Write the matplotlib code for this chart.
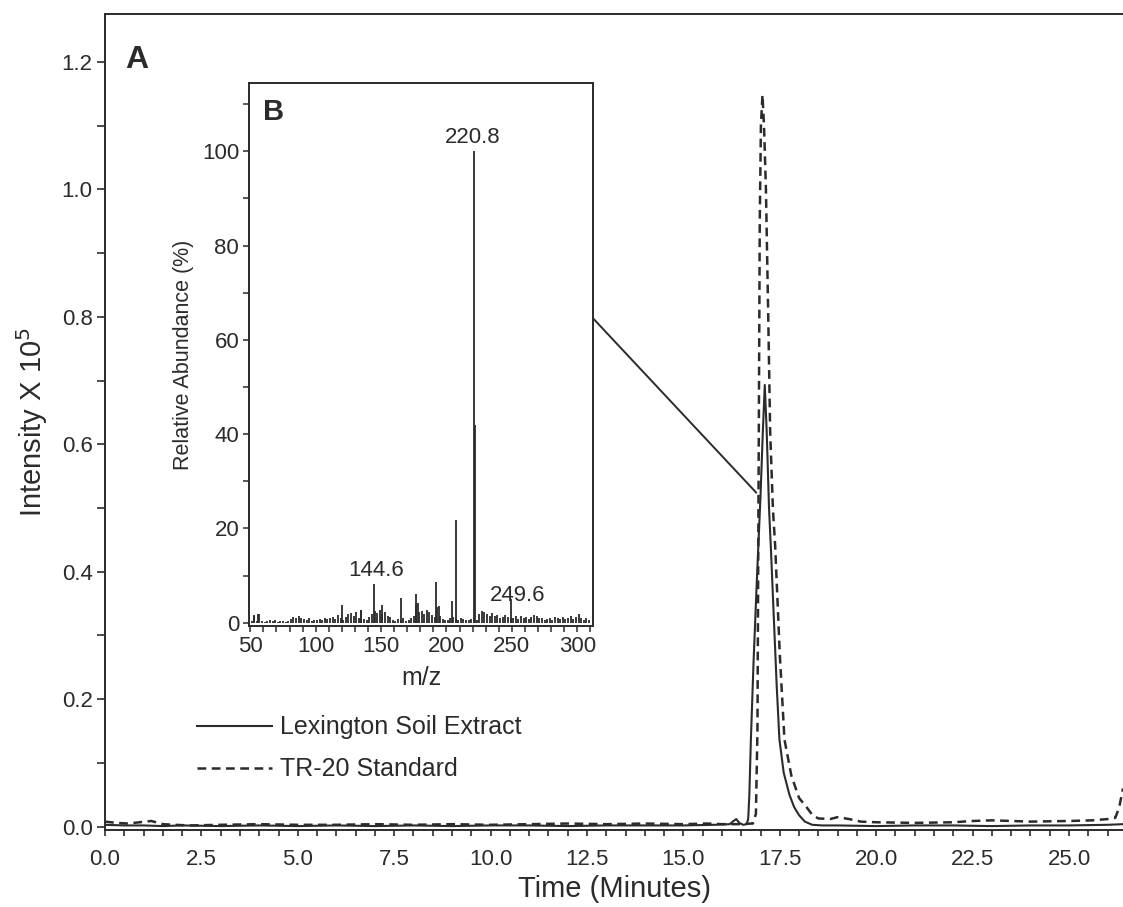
import numpy as np
import matplotlib.pyplot as plt
from matplotlib.patches import ConnectionPatch
from matplotlib.ticker import MultipleLocator

plt.rcParams["font.family"] = ["Liberation Sans", "DejaVu Sans"]
ink = "#2b2b2b"

# chromatogram, Lexington soil extract
lex_t = [0.0, 0.5, 1.0, 1.5, 2.0,
         3.0, 4.0, 5.0, 6.0, 7.0, 8.0, 9.0, 10.0, 11.0, 12.0, 13.0, 14.0, 15.0,
         15.8, 16.2, 16.3, 16.37, 16.45, 16.55, 16.64,
         16.68, 16.71, 16.75, 16.82, 16.90, 17.00, 17.06, 17.11,
         17.16, 17.22, 17.27, 17.35, 17.42, 17.49,
         17.60, 17.75, 17.87, 18.00, 18.15, 18.34, 18.6,
         19.0, 20.0, 21.0, 22.0, 23.0, 24.0, 25.0, 26.0, 26.4]
lex_i = [0.003, 0.002, 0.002, 0.001, 0.002,
         0.001, 0.002, 0.001, 0.002, 0.001, 0.002, 0.001, 0.002, 0.002, 0.001, 0.002, 0.002, 0.002,
         0.003, 0.004, 0.009, 0.012, 0.006, 0.003, 0.004,
         0.012, 0.05, 0.137, 0.26, 0.38, 0.52, 0.62, 0.693,
         0.62, 0.50, 0.435, 0.32, 0.22, 0.137,
         0.085, 0.05, 0.031, 0.018, 0.008, 0.003, 0.002,
         0.002, 0.001, 0.002, 0.002, 0.001, 0.002, 0.002, 0.003, 0.004]

# chromatogram, TR-20 standard
tr_t = [0.0, 0.3, 0.6, 0.9, 1.2, 1.5, 1.8, 2.2,
        3.0, 4.0, 5.0, 6.0, 7.0, 8.0, 9.0, 10.0, 11.0, 12.0, 13.0, 14.0, 15.0,
        15.6, 16.0, 16.4, 16.8,
        16.88, 16.92, 16.95, 16.98, 17.01, 17.05,
        17.09, 17.14, 17.20, 17.25, 17.32, 17.38,
        17.50, 17.62, 17.80, 18.00, 18.19, 18.35, 18.50, 18.80,
        19.00, 19.30, 19.60,
        20.0, 21.0, 22.0, 22.5, 23.0, 24.0, 25.0,
        25.6, 26.0, 26.2, 26.3, 26.4]
tr_i = [0.008, 0.006, 0.005, 0.007, 0.009, 0.004, 0.003, 0.002,
        0.003, 0.004, 0.003, 0.003, 0.004, 0.003, 0.004, 0.003, 0.004, 0.005, 0.004, 0.005, 0.004,
        0.005, 0.004, 0.004, 0.005,
        0.02, 0.15, 0.55, 0.95, 1.10, 1.148,
        1.10, 1.00, 0.80, 0.62, 0.50, 0.44,
        0.27, 0.137, 0.08, 0.045, 0.031, 0.018, 0.013, 0.012,
        0.015, 0.012, 0.008,
        0.007, 0.006, 0.007, 0.009, 0.010, 0.008, 0.009,
        0.010, 0.012, 0.014, 0.03, 0.06]

# mass spectrum: background ions every 2 m/z, then the main fragments
noise_mz = np.arange(51, 311, 2)
noise_ab = [0.3, 1.5, 0.4, 1.8, 0.3,
            0.2, 0.3, 0.5, 0.3, 0.6, 0.2, 0.4, 0.3, 0.2, 0.4,
            0.8, 1.2, 0.9, 1.5, 1.1, 0.7, 0.5, 0.9, 0.4, 0.6,
            0.5, 0.8, 0.6, 1.0, 0.7, 0.9, 1.3, 0.8, 1.6, 0.9,
            0.6, 1.2, 1.8, 2.0, 1.4, 2.2, 1.0, 2.6, 0.8, 0.5,
            1.2, 1.8, 2.4, 2.0, 2.6, 1.9, 2.3, 1.5, 1.2, 0.6,
            0.4, 0.8, 0.5, 0.9, 0.3, 0.6, 1.1, 1.5, 4.0, 2.2,
            2.5, 1.8, 2.8, 2.2, 1.6, 1.2, 3.4, 1.4, 0.8, 0.6,
            0.5, 0.9, 1.2, 0.8, 0.6, 0.9, 0.7, 0.5, 0.6, 0.8,
            0.5, 0.6, 1.8, 2.4, 2.2, 1.9, 1.5, 2.1, 1.4, 1.6,
            1.0, 1.3, 1.7, 1.2, 0.9, 1.1, 1.5, 0.8, 1.4, 1.0,
            1.2, 0.7, 1.3, 1.6, 1.4, 0.9, 1.1, 0.6, 0.8, 1.0,
            0.6, 1.2, 0.9, 0.7, 1.3, 0.8, 1.0, 1.5, 0.7, 1.2,
            1.8, 0.9, 0.6, 1.1, 0.5]
peak_mz = [53, 56, 120, 135, 144.6, 151, 165, 177, 178.5, 192, 194.5, 204, 207, 220.8, 221.8, 249.6]
peak_ab = [1.6, 1.8, 3.7, 2.7, 8.3, 3.8, 5.3, 6.0, 4.2, 8.7, 3.6, 4.6, 21.8, 100, 42, 5.0]
labelled = [144.6, 220.8, 249.6]

fig = plt.figure(figsize=(11.23, 9.07), dpi=100)
ax = fig.add_axes([0.0935, 0.085, 0.9065, 0.8996])

ln1, = ax.plot(lex_t, lex_i, color=ink, lw=1.5, label="Lexington Soil Extract")
ln2, = ax.plot(tr_t, tr_i, color=ink, lw=1.8, ls=(0, (3.5, 2.2)), label="TR-20 Standard")

ax.set_xlim(0, 26.4)
ax.set_ylim(-0.005, 1.275)
ax.xaxis.set_major_locator(MultipleLocator(2.5))
ax.xaxis.set_minor_locator(MultipleLocator(0.5))
ax.yaxis.set_major_locator(MultipleLocator(0.2))
ax.yaxis.set_minor_locator(MultipleLocator(0.1))
ax.xaxis.set_major_formatter(lambda v, p: f"{v:.1f}")
ax.yaxis.set_major_formatter(lambda v, p: f"{v:.1f}")
ax.tick_params(axis="both", which="both", direction="out", color=ink, labelcolor=ink,
               labelsize=16, width=1.2)
ax.tick_params(axis="y", which="both", length=6, pad=3)
ax.tick_params(axis="x", which="both", length=4, pad=10)
ax.spines["right"].set_visible(False)
for s in ["left", "bottom", "top"]:
    ax.spines[s].set_color(ink)
    ax.spines[s].set_linewidth(1.4)

ax.set_xlabel("Time (Minutes)", fontsize=21, color=ink, labelpad=3)
ax.set_ylabel("Intensity X 10$^5$", fontsize=21, color=ink, labelpad=8)
ax.text(0.02, 0.962, "A", transform=ax.transAxes, fontsize=23, fontweight="bold",
        color=ink, va="top", ha="left")

leg = ax.legend(handles=[ln1, ln2], loc="lower left", bbox_to_anchor=(0.068, 0.032),
                frameon=False, fontsize=18, handlelength=3.0, handletextpad=0.35,
                labelspacing=0.72)
for t in leg.get_texts():
    t.set_color(ink)

# inset: mass spectrum of the peak
ins = fig.add_axes([0.2217, 0.3098, 0.3063, 0.5987])
ins.vlines(noise_mz, 0, noise_ab, color=ink, lw=1.3)
ins.vlines(peak_mz, 0, peak_ab, color=ink, lw=1.3)
ins.set_xlim(49, 312)
ins.set_ylim(-0.7, 114.5)
ins.xaxis.set_major_locator(MultipleLocator(50))
ins.xaxis.set_minor_locator(MultipleLocator(10))
ins.yaxis.set_major_locator(MultipleLocator(20))
ins.yaxis.set_minor_locator(MultipleLocator(10))
ins.tick_params(axis="both", which="both", direction="out", color=ink, labelcolor=ink,
                labelsize=16, width=1.1, length=4, pad=3)
for s in ins.spines.values():
    s.set_color(ink)
    s.set_linewidth(1.4)
ins.set_xlabel("m/z", fontsize=18, color=ink, labelpad=7)
ins.set_ylabel("Relative Abundance (%)", fontsize=15.5, color=ink, labelpad=6)
ins.text(0.04, 0.972, "B", transform=ins.transAxes, fontsize=21, fontweight="bold",
         color=ink, va="top", ha="left")

label_offsets = {144.6: (2.0, 0.6), 220.8: (-0.5, 0.8), 249.6: (5.0, -1.4)}
for m in labelled:
    a = peak_ab[peak_mz.index(m)]
    dx, dy = label_offsets[m]
    ins.text(m + dx, a + dy, f"{m:.1f}", fontsize=16, color=ink, ha="center", va="bottom")

# leader from the inset to the sampled point on the peak
con = ConnectionPatch(xyA=(1.0, 64.6), coordsA=ins.get_yaxis_transform(),
                      xyB=(16.89, 0.524), coordsB=ax.transData, color=ink, lw=1.4)
fig.add_artist(con)

fig.savefig("out.png", dpi=100)
